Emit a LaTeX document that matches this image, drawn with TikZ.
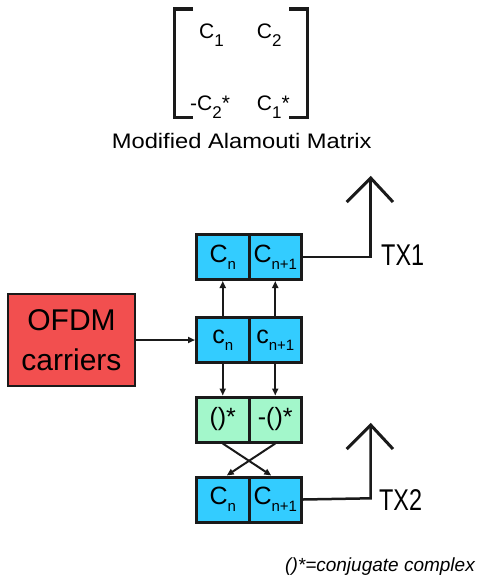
\documentclass[tikz,border=0pt]{standalone}
\usepackage{fontspec}
\setmainfont{Liberation Sans}
\usetikzlibrary{arrows.meta}
\definecolor{cellblue}{HTML}{33CCFF}
\definecolor{cellgreen}{HTML}{A3F7CB}
\definecolor{ofdmred}{HTML}{F24F4F}
\definecolor{edge}{HTML}{1A1A1A}
\newcommand\sbx[3]{\raisebox{-#1}{\fontsize{#2}{#2}\selectfont #3}}
\begin{document}
\begin{tikzpicture}[x=1pt,y=-1pt,
  cellbox/.style={draw=edge, line width=3pt, minimum width=52.5pt, minimum height=45pt,
    inner sep=0pt, font=\fontsize{25}{25}\selectfont},
  bluecell/.style={cellbox, fill=cellblue},
  greencell/.style={cellbox, fill=cellgreen},
  conn/.style={line width=2pt, draw=edge, -{Triangle[length=7pt,width=6pt]}},
  antenna/.style={line width=2.5pt, draw=edge},
  antarm/.style={line width=3pt, draw=edge},
  brk/.style={line width=3.5pt, draw=edge},
  mtx/.style={anchor=base west, inner sep=0pt, font=\fontsize{21}{21}\selectfont},
  txlabel/.style={anchor=base west, inner sep=0pt, font=\fontsize{30}{30}\selectfont}]
\useasboundingbox (0,0) rectangle (477,579);

% matrix
\draw[brk] (193,9) -- (174.5,9) -- (174.5,117.5) -- (193,117.5);
\draw[brk] (289,9) -- (307.5,9) -- (307.5,117.5) -- (289,117.5);
\node[mtx] (m11) at (199,38.3) {C\sbx{8pt}{17}{1}};
\node[mtx] (m12) at (256.7,38.3) {C\sbx{8pt}{17}{2}};
\node[mtx] (m21) at (190,110.5) {-C\sbx{8pt}{17}{2}*};
\node[mtx] (m22) at (256.7,110.5) {C\sbx{8pt}{17}{1}*};
\node[anchor=base, inner sep=0pt, font=\fontsize{21}{21}\selectfont] (cap) at (241.7,148.3)
  {\scalebox{1.13}[1]{Modified Alamouti Matrix}};

% OFDM source
\node[draw=edge, line width=2pt, fill=ofdmred, minimum width=127pt, minimum height=92pt,
  inner sep=0pt, align=center, font=\fontsize{30}{40}\selectfont] (ofdm) at (71.5,340)
  {OFDM\\carriers};

% cells
\node[bluecell] (t1) at (222.75,257) {C\sbx{7pt}{15}{n}};
\node[bluecell] (t2) at (275.25,257) {C\sbx{7pt}{15}{n+1}};
\node[bluecell] (m1) at (222.75,340) {c\sbx{7pt}{15}{n}};
\node[bluecell] (m2) at (275.25,340) {c\sbx{7pt}{15}{n+1}};
\node[greencell] (g1) at (222.75,419.5) {()*};
\node[greencell] (g2) at (275.25,419.5) {-()*};
\node[bluecell] (b1) at (222.75,499.5) {C\sbx{7pt}{15}{n}};
\node[bluecell] (b2) at (275.25,499.5) {C\sbx{7pt}{15}{n+1}};

% connectors
\draw[conn] (ofdm.east) -- (m1.west);
\draw[conn] (m1.north) -- (t1.south);
\draw[conn] (m2.north) -- (t2.south);
\draw[conn] (m1.south) -- (g1.north);
\draw[conn] (m2.south) -- (g2.north);
\draw[conn] (g1.south) -- ([xshift=-4pt]b2.north);
\draw[conn] (g2.south) -- ([xshift=4pt]b1.north);

% antennas
\coordinate (c1) at (370.7,257);
\coordinate (tip1) at (370.7,178);
\coordinate (l1) at (346.7,202);
\coordinate (r1) at (393,202);
\draw[antenna] (t2.east) -- (c1) -- (tip1);
\draw[antarm, line join=miter] (l1) -- (tip1) -- (r1);
\node[txlabel] (tx1) at (381,265) {\scalebox{0.78}[1]{TX1}};

\coordinate (c2) at (370.7,498.3);
\coordinate (tip2) at (370.7,425);
\coordinate (l2) at (346.7,449);
\coordinate (r2) at (393,449);
\draw[antenna] (b2.east) -- (c2) -- (tip2);
\draw[antarm, line join=miter] (l2) -- (tip2) -- (r2);
\node[txlabel] (tx2) at (379,510) {\scalebox{0.78}[1]{TX2}};

% footnote
\node[anchor=base east, inner sep=0pt, font=\fontsize{19}{19}\selectfont\itshape] (note)
  at (475,571.7) {()*=conjugate complex};
\end{tikzpicture}
\end{document}
